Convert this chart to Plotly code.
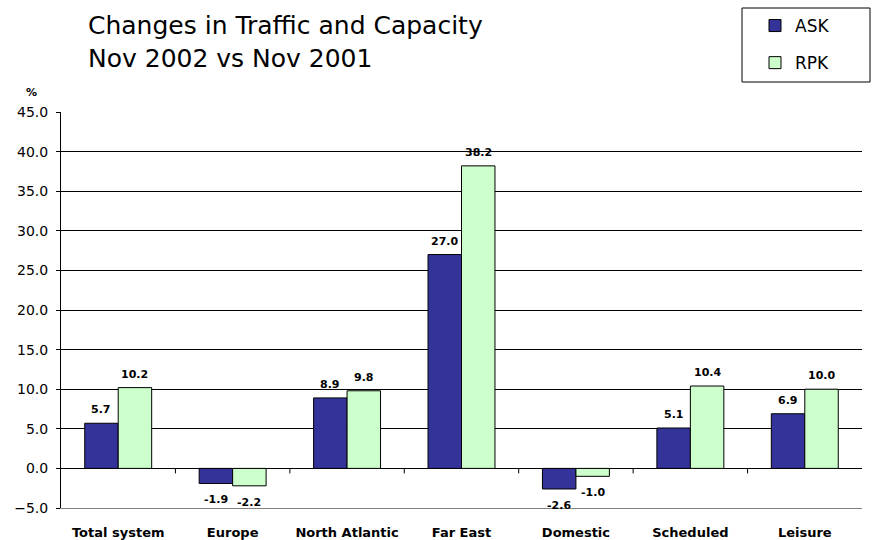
import plotly.graph_objects as go

categories = ["Total system", "Europe", "North Atlantic", "Far East", "Domestic", "Scheduled", "Leisure"]
ask = [5.7, -1.9, 8.9, 27.0, -2.6, 5.1, 6.9]
rpk = [10.2, -2.2, 9.8, 38.2, -1.0, 10.4, 10.0]
y_ticks = [-5, 0, 5, 10, 15, 20, 25, 30, 35, 40, 45]

W, H = 872, 540
ML, MR, MT, MB = 61, 10, 112, 32
BARGAP = 0.415
plot_w = W - ML - MR
plot_h = H - MT - MB


def px_x(px):
    return (px - ML) / plot_w


def px_y(py):
    return 1 + (MT - py) / plot_h


fig = go.Figure()
fig.add_trace(go.Bar(x=categories, y=ask, name="ASK", legendgroup="a",
                     marker=dict(color="#333399", line=dict(color="black", width=1))))
fig.add_trace(go.Bar(x=categories, y=rpk, name="RPK", legendgroup="b",
                     marker=dict(color="#CCFFCC", line=dict(color="black", width=1))))

# data labels, placed at each bar's value
half = plot_w / len(categories) * (1 - BARGAP) / 4
lab_font = dict(family="DejaVu Sans", size=11, color="black", weight="bold")
for series, dx in ((ask, -half), (rpk, half)):
    for c, v in zip(categories, series):
        fig.add_annotation(x=c, y=v, xref="x", yref="y", text=f"{v:.1f}", showarrow=False,
                           xshift=dx, yshift=5 if v >= 0 else -8,
                           yanchor="bottom" if v >= 0 else "top", font=lab_font)

# category-boundary tick marks on the zero line
for i in range(len(categories) - 1):
    fig.add_shape(type="line", xref="x", yref="y", ysizemode="pixel", yanchor=0,
                  x0=i + 0.5, x1=i + 0.5, y0=0, y1=-5,
                  line=dict(color="black", width=1))

# legend frame
fig.add_shape(type="rect", xref="paper", yref="paper",
              x0=px_x(742), x1=px_x(870), y0=px_y(82), y1=px_y(8),
              line=dict(color="black", width=1), fillcolor="rgba(0,0,0,0)")

fig.update_layout(
    width=W, height=H,
    margin=dict(l=ML, r=MR, t=MT, b=MB, autoexpand=False),
    paper_bgcolor="white", plot_bgcolor="white",
    barmode="group", bargap=BARGAP, bargroupgap=0,
    legend=dict(x=px_x(755), xanchor="left", y=px_y(8), yanchor="top",
                borderwidth=0, bgcolor="rgba(0,0,0,0)",
                font=dict(family="DejaVu Sans", size=17, color="black"),
                tracegroupgap=12, traceorder="grouped"),
    font=dict(family="DejaVu Sans", color="black"),
)
fig.update_yaxes(range=[-5, 45], tickvals=y_ticks, tickformat=".1f", automargin=False,
                 showgrid=True, gridcolor="black", gridwidth=1,
                 zeroline=True, zerolinecolor="black", zerolinewidth=1,
                 showline=True, linecolor="black", linewidth=1,
                 ticks="outside", ticklen=4, tickcolor="black", ticklabelstandoff=5,
                 tickfont=dict(family="DejaVu Sans", size=14, color="black"))
fig.update_xaxes(showline=True, linecolor="#808080", linewidth=1, ticks="", automargin=False,
                 ticklabelstandoff=12,
                 tickfont=dict(family="DejaVu Sans", size=13, color="black", weight="bold"))

fig.add_annotation(text="Changes in Traffic and Capacity<br>Nov 2002 vs Nov 2001",
                   xref="paper", yref="paper", x=px_x(86), y=px_y(9),
                   xanchor="left", yanchor="top", align="left", showarrow=False,
                   font=dict(family="DejaVu Sans", size=25, color="black"))
fig.add_annotation(text="%", xref="paper", yref="paper", x=px_x(31), y=px_y(93),
                   xanchor="center", yanchor="middle", showarrow=False,
                   font=dict(family="DejaVu Sans", size=11, color="black", weight="bold"))

fig.write_html("out.html", config={"displayModeBar": False},
               post_script="document.body.style.margin='0';")
